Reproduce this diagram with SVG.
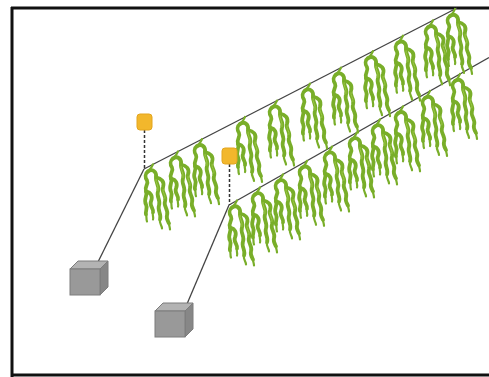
<svg xmlns="http://www.w3.org/2000/svg" xmlns:xlink="http://www.w3.org/1999/xlink" width="489" height="377" viewBox="0 0 489 377">
<style>
.frame{fill:none;stroke:#111;stroke-width:3}
.rope{fill:none;stroke:#444;stroke-width:1.3}
.dash{fill:none;stroke:#333;stroke-width:1.5;stroke-dasharray:3 2}
.buoy{fill:#f2b72c;stroke:#e3a51e;stroke-width:1}
.cf{fill:#999;stroke:#7d7d7d;stroke-width:1}
.ct{fill:#b3b3b3;stroke:#7d7d7d;stroke-width:1}
.cr{fill:#878787;stroke:#7d7d7d;stroke-width:1}
.sw{fill:none;stroke:#79ae29;stroke-width:3.8;stroke-linecap:round;stroke-linejoin:round}
.swt{fill:none;stroke:#79ae29;stroke-width:2.2;stroke-linecap:round}
.swh{fill:none;stroke:#9cc844;stroke-width:1;stroke-linecap:round}
</style>
<defs>
<g id="seaweed">
<path class="swt" d="M0,0 C-1,3 -3,5 -5,7"/>
<path class="sw" d="M-5,7 C-8,9 -8,13 -6,16 C-4,20 -9,22 -7,27 C-5,31 -10,35 -7,40 C-5,44 -8,47 -7,50"/>
<path class="swt" d="M-7,50 C-6,53 -7,55 -6,57"/>
<path class="sw" d="M-5,7 C-1,4 4,7 3,13 C2,18 7,21 5,27 C3,32 8,36 6,41 C4,46 9,50 7,55"/>
<path class="swt" d="M7,55 C6,59 9,61 9,64"/>
<path class="sw" d="M3,13 C8,14 12,17 10,23 C8,28 14,31 12,37 C10,42 16,45 14,51 C13,54 15,57 16,59"/>
<path class="swt" d="M16,59 C16,61 17,63 17,65"/>
<path class="sw" d="M-7,27 C-2,28 0,32 -2,37 C-4,41 1,44 0,48"/>
<path class="swt" d="M0,48 C-1,51 1,53 0,55"/>
<path class="swh" d="M3,15 C2,18 6,21 5,26"/>
<path class="swh" d="M10,25 C9,28 13,31 12,34"/>
</g>
</defs>
<rect width="489" height="377" fill="#fff"/>
<g id="frame">
<line class="frame" x1="12" y1="7" x2="12" y2="377"/>
<line class="frame" x1="11" y1="8" x2="489" y2="8"/>
<line class="frame" x1="11" y1="375" x2="489" y2="375"/>
</g>
<g id="connectors">
<line class="rope" x1="144" y1="169" x2="457" y2="8"/>
<line class="rope" x1="229" y1="205" x2="489" y2="57.5"/>
<line class="rope" x1="144" y1="169" x2="98" y2="262"/>
<line class="rope" x1="229" y1="205" x2="187" y2="304"/>
<line class="dash" x1="144.5" y1="130" x2="144.5" y2="169"/>
<line class="dash" x1="229.5" y1="164" x2="229.5" y2="205"/>
</g>
<g id="seaweed-line1">
<use xlink:href="#seaweed" x="153" y="164.4"/>
<use xlink:href="#seaweed" x="178" y="151.5"/>
<use xlink:href="#seaweed" x="202" y="139.2"/>
<use xlink:href="#seaweed" x="245" y="117"/>
<use xlink:href="#seaweed" x="277" y="100.6"/>
<use xlink:href="#seaweed" x="310" y="83.6"/>
<use xlink:href="#seaweed" x="341" y="67.6"/>
<use xlink:href="#seaweed" x="373" y="51.2"/>
<use xlink:href="#seaweed" x="403" y="35.7"/>
<use xlink:href="#seaweed" x="433" y="20.3"/>
<use xlink:href="#seaweed" x="455" y="9"/>
</g>
<g id="seaweed-line2">
<use xlink:href="#seaweed" x="237" y="200.5"/>
<use xlink:href="#seaweed" x="260" y="187.4"/>
<use xlink:href="#seaweed" x="283" y="174.4"/>
<use xlink:href="#seaweed" x="307" y="160.8"/>
<use xlink:href="#seaweed" x="332" y="146.6"/>
<use xlink:href="#seaweed" x="357" y="132.4"/>
<use xlink:href="#seaweed" x="380" y="119.4"/>
<use xlink:href="#seaweed" x="403" y="106.3"/>
<use xlink:href="#seaweed" x="430" y="91"/>
<use xlink:href="#seaweed" x="460" y="74"/>
</g>
<g id="buoy1"><rect class="buoy" x="137" y="114" width="15" height="16" rx="3"/></g>
<g id="buoy2"><rect class="buoy" x="222" y="148" width="15" height="16" rx="3"/></g>
<g id="anchor1">
<polygon class="ct" points="70,269 78,261 108,261 100,269"/>
<polygon class="cr" points="100,269 108,261 108,287 100,295"/>
<rect class="cf" x="70" y="269" width="30" height="26"/>
</g>
<g id="anchor2">
<polygon class="ct" points="155,311 163,303 193,303 185,311"/>
<polygon class="cr" points="185,311 193,303 193,329 185,337"/>
<rect class="cf" x="155" y="311" width="30" height="26"/>
</g>
</svg>
